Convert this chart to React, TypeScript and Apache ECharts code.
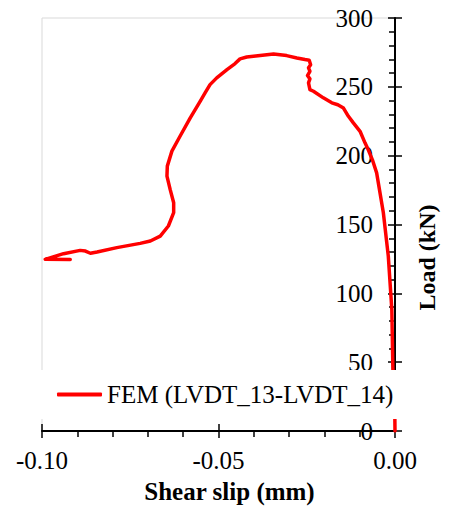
import React, { useEffect, useRef } from "react";
import * as echarts from "echarts";

const seriesName = "FEM (LVDT_13-LVDT_14)";
const xAxisTitle = "Shear slip (mm)";
const yAxisTitle = "Load (kN)";

const slip = [
  0, -0.0001, -0.0006, -0.0009, -0.0019, -0.0033, -0.0052, -0.0064, -0.0076, -0.0085,
  -0.0099, -0.0118, -0.0132, -0.0146, -0.0162, -0.0179, -0.0203, -0.0231, -0.0241, -0.0245,
  -0.0241, -0.0248, -0.0241, -0.0245, -0.0239, -0.0243, -0.0255, -0.0278, -0.0307, -0.0344,
  -0.0382, -0.042, -0.0439, -0.0453, -0.0476, -0.0505, -0.0524, -0.0538, -0.0552, -0.058,
  -0.0609, -0.0632, -0.0645, -0.0646, -0.0637, -0.0627, -0.0627, -0.0642, -0.0665, -0.0693,
  -0.0722, -0.0788, -0.0844, -0.0863, -0.0877, -0.0892, -0.0939, -0.0991, -0.092,
];
const load = [
  0, 23, 45, 88.3, 127, 158.5, 187.5, 197, 204.5, 209.3,
  217.7, 223.8, 228.6, 234.6, 237, 238.4, 242, 246.8, 248, 252.9,
  255.8, 258.2, 261.3, 263.8, 266.1, 269.3, 269.8, 271, 272.7, 273.9,
  272.7, 271.7, 270.3, 266.9, 262.5, 256.5, 251.6, 245.6, 239.5, 227.5,
  214.1, 203.3, 192.4, 185.1, 175.5, 165.8, 158.6, 148.9, 141.6, 138,
  136.3, 133.2, 130, 129.1, 130.7, 131.2, 128.8, 124.7, 124.5,
];

const FONT = "'Liberation Serif', 'Times New Roman', serif";

export default function App() {
  const ref = useRef<HTMLDivElement>(null);
  useEffect(() => {
    if (!ref.current) return;
    const chart = echarts.init(ref.current, null, { renderer: "svg" });
    const data = slip.map((s, i) => [s, load[i]]);
    const axisLine = { show: true, onZero: false, lineStyle: { color: "#000", width: 2 } };
    chart.setOption({
      animation: false,
      backgroundColor: "#fff",
      textStyle: { fontFamily: FONT },
      grid: {
        left: 42,
        right: 58,
        top: 18,
        bottom: 77,
        show: true,
        borderColor: "#d9d9d9",
        borderWidth: 1,
        backgroundColor: "transparent",
      },
      legend: {
        show: true,
        left: 38,
        top: 370,
        padding: [12, 6, 12, 19],
        backgroundColor: "#fff",
        icon: "roundRect",
        itemWidth: 45,
        itemHeight: 4,
        itemGap: 5,
        textStyle: { fontFamily: FONT, fontSize: 25, color: "#000" },
        data: [seriesName],
        z: 10,
      },
      xAxis: [
        {
          type: "value",
          position: "bottom",
          min: -0.1,
          max: 0,
          interval: 0.05,
          axisLine,
          axisTick: { show: true, inside: false, length: 7, lineStyle: { color: "#000", width: 1.5 } },
          minorTick: { show: true, splitNumber: 5, length: 6, lineStyle: { color: "#000", width: 1.5 } },
          splitLine: { show: false },
          minorSplitLine: { show: false },
          axisLabel: {
            margin: 17,
            fontSize: 25,
            color: "#000",
            fontFamily: FONT,
            formatter: (v: number) => v.toFixed(2),
          },
          name: xAxisTitle,
          nameLocation: "middle",
          nameGap: 48,
          nameTextStyle: {
            fontFamily: FONT,
            fontSize: 25,
            fontWeight: "bold",
            color: "#000",
            padding: [0, 0, 0, 22],
          },
        },
        {
          type: "value",
          position: "bottom",
          min: -0.1,
          max: 0,
          interval: 0.05,
          axisLine: { show: false },
          axisTick: { show: true, inside: true, length: 7, lineStyle: { color: "#000", width: 1.5 } },
          axisLabel: { show: false },
          splitLine: { show: false },
        },
      ],
      yAxis: [
        {
          type: "value",
          position: "right",
          min: 0,
          max: 300,
          interval: 50,
          axisLine,
          axisTick: { show: true, inside: true, length: 7, lineStyle: { color: "#000", width: 1.5 } },
          minorTick: { show: true, splitNumber: 5, length: 6, lineStyle: { color: "#000", width: 1.5 } },
          splitLine: { show: false },
          minorSplitLine: { show: false },
          axisLabel: {
            inside: true,
            margin: 22,
            fontSize: 25,
            color: "#000",
            fontFamily: FONT,
          },
          name: yAxisTitle,
          nameLocation: "middle",
          nameRotate: 90,
          nameGap: 20,
          nameTextStyle: {
            fontFamily: FONT,
            fontSize: 24,
            fontWeight: "bold",
            color: "#000",
            padding: [0, 66, 0, 0],
          },
        },
        {
          type: "value",
          position: "right",
          min: 0,
          max: 300,
          interval: 50,
          axisLine: { show: false },
          axisTick: { show: true, inside: false, length: 7, lineStyle: { color: "#000", width: 1.5 } },
          axisLabel: { show: false },
          splitLine: { show: false },
        },
      ],
      series: [
        {
          name: seriesName,
          type: "line",
          xAxisIndex: 0,
          yAxisIndex: 0,
          data,
          showSymbol: false,
          symbol: "none",
          smooth: false,
          color: "#ff0000",
          lineStyle: { color: "#ff0000", width: 3.5, cap: "round", join: "round" },
          z: 2,
        },
      ],
    });
    return () => chart.dispose();
  }, []);
  return <div ref={ref} style={{ width: 453, height: 509, position: "absolute", left: 0, top: 0 }} />;
}
